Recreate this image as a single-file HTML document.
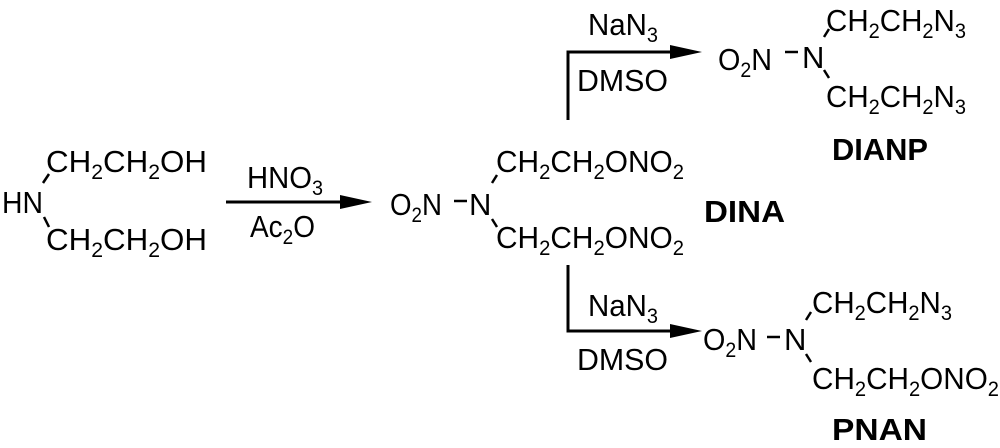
<!DOCTYPE html>
<html><head><meta charset="utf-8"><style>
html,body{margin:0;padding:0;background:#fff}
svg{display:block}
text{font-family:"Liberation Sans",Arial,sans-serif;font-size:31px;fill:#000}
.s{font-size:21px}
.b{font-weight:bold;font-size:31px}
</style></head><body>
<svg width="1000" height="448" viewBox="0 0 1000 448" xmlns="http://www.w3.org/2000/svg">
<g stroke="#000" stroke-width="2.5" fill="none">
<line x1="43" y1="183" x2="49" y2="174"/>
<line x1="44" y1="217" x2="49" y2="227"/>
<line x1="226" y1="202" x2="345" y2="202" stroke-width="3"/>
<line x1="454" y1="201" x2="467" y2="201"/>
<line x1="492" y1="183" x2="497" y2="175"/>
<line x1="492" y1="219" x2="497" y2="227"/>
<polyline points="568,120 568,52 680,52" stroke-width="3"/>
<line x1="785" y1="52" x2="798" y2="52"/>
<line x1="824" y1="37" x2="829" y2="29"/>
<line x1="824" y1="70" x2="829" y2="78"/>
<polyline points="568,265 568,331 680,331" stroke-width="3"/>
<line x1="767" y1="337" x2="780" y2="337"/>
<line x1="806" y1="320" x2="811" y2="312"/>
<line x1="806" y1="354" x2="811" y2="362"/>
</g>
<g fill="#000">
<polygon points="340,195 372,202 340,209"/>
<polygon points="670,45 702,52 670,59"/>
<polygon points="670,324 702,331 670,338"/>
</g>
<text x="46" y="172" textLength="161" lengthAdjust="spacingAndGlyphs">CH<tspan class="s" dy="7">2</tspan><tspan dy="-7">CH</tspan><tspan class="s" dy="7">2</tspan><tspan dy="-7">OH</tspan></text>
<text x="2" y="213" textLength="41" lengthAdjust="spacingAndGlyphs">HN</text>
<text x="46" y="250" textLength="161" lengthAdjust="spacingAndGlyphs">CH<tspan class="s" dy="7">2</tspan><tspan dy="-7">CH</tspan><tspan class="s" dy="7">2</tspan><tspan dy="-7">OH</tspan></text>
<text x="247" y="188" textLength="76" lengthAdjust="spacingAndGlyphs">HNO<tspan class="s" dy="7">3</tspan></text>
<text x="250" y="237" textLength="65" lengthAdjust="spacingAndGlyphs">Ac<tspan class="s" dy="7">2</tspan><tspan dy="-7">O</tspan></text>
<text x="390" y="215" textLength="52" lengthAdjust="spacingAndGlyphs">O<tspan class="s" dy="7">2</tspan><tspan dy="-7">N</tspan></text>
<text x="469" y="215">N</text>
<text x="496" y="172" textLength="188" lengthAdjust="spacingAndGlyphs">CH<tspan class="s" dy="7">2</tspan><tspan dy="-7">CH</tspan><tspan class="s" dy="7">2</tspan><tspan dy="-7">ONO</tspan><tspan class="s" dy="7">2</tspan></text>
<text x="496" y="248" textLength="188" lengthAdjust="spacingAndGlyphs">CH<tspan class="s" dy="7">2</tspan><tspan dy="-7">CH</tspan><tspan class="s" dy="7">2</tspan><tspan dy="-7">ONO</tspan><tspan class="s" dy="7">2</tspan></text>
<text x="704" y="222" class="b" textLength="81" lengthAdjust="spacingAndGlyphs">DINA</text>
<text x="588" y="35" textLength="70" lengthAdjust="spacingAndGlyphs">NaN<tspan class="s" dy="7">3</tspan></text>
<text x="577" y="91" textLength="91" lengthAdjust="spacingAndGlyphs">DMSO</text>
<text x="718" y="70" textLength="54" lengthAdjust="spacingAndGlyphs">O<tspan class="s" dy="7">2</tspan><tspan dy="-7">N</tspan></text>
<text x="802" y="68">N</text>
<text x="826" y="31" textLength="140" lengthAdjust="spacingAndGlyphs">CH<tspan class="s" dy="7">2</tspan><tspan dy="-7">CH</tspan><tspan class="s" dy="7">2</tspan><tspan dy="-7">N</tspan><tspan class="s" dy="7">3</tspan></text>
<text x="826" y="107" textLength="140" lengthAdjust="spacingAndGlyphs">CH<tspan class="s" dy="7">2</tspan><tspan dy="-7">CH</tspan><tspan class="s" dy="7">2</tspan><tspan dy="-7">N</tspan><tspan class="s" dy="7">3</tspan></text>
<text x="832" y="160" class="b" textLength="96" lengthAdjust="spacingAndGlyphs">DIANP</text>
<text x="588" y="316" textLength="70" lengthAdjust="spacingAndGlyphs">NaN<tspan class="s" dy="7">3</tspan></text>
<text x="577" y="370" textLength="91" lengthAdjust="spacingAndGlyphs">DMSO</text>
<text x="703" y="350" textLength="54" lengthAdjust="spacingAndGlyphs">O<tspan class="s" dy="7">2</tspan><tspan dy="-7">N</tspan></text>
<text x="784" y="350">N</text>
<text x="812" y="313" textLength="140" lengthAdjust="spacingAndGlyphs">CH<tspan class="s" dy="7">2</tspan><tspan dy="-7">CH</tspan><tspan class="s" dy="7">2</tspan><tspan dy="-7">N</tspan><tspan class="s" dy="7">3</tspan></text>
<text x="812" y="389" textLength="187" lengthAdjust="spacingAndGlyphs">CH<tspan class="s" dy="7">2</tspan><tspan dy="-7">CH</tspan><tspan class="s" dy="7">2</tspan><tspan dy="-7">ONO</tspan><tspan class="s" dy="7">2</tspan></text>
<text x="832" y="440" class="b" textLength="95" lengthAdjust="spacingAndGlyphs">PNAN</text>
</svg>
</body></html>
